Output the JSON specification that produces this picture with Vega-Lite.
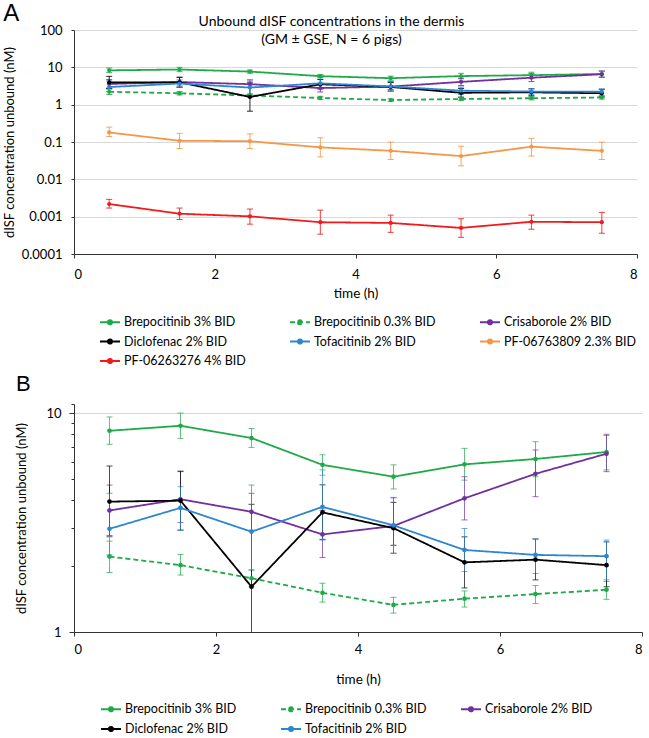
{
 "$schema": "https://vega.github.io/schema/vega-lite/v6.json",
 "padding": {"left": 3, "top": 2, "right": 0, "bottom": 0},
 "background": "white",
 "config": {
  "font": "Lato",
  "view": {"stroke": null},
  "axis": {"domainColor": "#333333", "tickColor": "#333333", "labelColor": "#000000", "titleColor": "#000000", "labelFontSize": 13, "titleFontSize": 13, "titleFontWeight": "normal", "gridColor": "#d9d9d9", "labelFont": "Lato", "titleFont": "Lato"},
  "title": {"font": "Lato", "color": "#000000"}
 },
 "title": {"text": "A", "anchor": "start", "frame": "bounds", "font": "Liberation Sans", "fontSize": 24, "fontWeight": "normal", "offset": -11},
 "datasets": {
  "d": [
   {"series": "Brepocitinib 3% BID", "time": 0.5, "value": 8.3, "lo": 7.2, "hi": 9.6},
   {"series": "Brepocitinib 3% BID", "time": 1.5, "value": 8.75, "lo": 7.66, "hi": 10.0},
   {"series": "Brepocitinib 3% BID", "time": 2.5, "value": 7.69, "lo": 6.97, "hi": 8.5},
   {"series": "Brepocitinib 3% BID", "time": 3.5, "value": 5.8, "lo": 5.2, "hi": 6.45},
   {"series": "Brepocitinib 3% BID", "time": 4.5, "value": 5.12, "lo": 4.5, "hi": 5.8},
   {"series": "Brepocitinib 3% BID", "time": 5.5, "value": 5.83, "lo": 4.94, "hi": 6.9},
   {"series": "Brepocitinib 3% BID", "time": 6.5, "value": 6.17, "lo": 5.12, "hi": 7.4},
   {"series": "Brepocitinib 3% BID", "time": 7.5, "value": 6.64, "lo": 5.5, "hi": 7.9},
   {"series": "Brepocitinib 0.3% BID", "time": 0.5, "value": 2.21, "lo": 1.87, "hi": 2.6},
   {"series": "Brepocitinib 0.3% BID", "time": 1.5, "value": 2.02, "lo": 1.82, "hi": 2.26},
   {"series": "Brepocitinib 0.3% BID", "time": 2.5, "value": 1.76, "lo": 1.61, "hi": 1.92},
   {"series": "Brepocitinib 0.3% BID", "time": 3.5, "value": 1.51, "lo": 1.37, "hi": 1.67},
   {"series": "Brepocitinib 0.3% BID", "time": 4.5, "value": 1.33, "lo": 1.22, "hi": 1.44},
   {"series": "Brepocitinib 0.3% BID", "time": 5.5, "value": 1.42, "lo": 1.3, "hi": 1.54},
   {"series": "Brepocitinib 0.3% BID", "time": 6.5, "value": 1.49, "lo": 1.35, "hi": 1.63},
   {"series": "Brepocitinib 0.3% BID", "time": 7.5, "value": 1.56, "lo": 1.41, "hi": 1.7},
   {"series": "Crisaborole 2% BID", "time": 0.5, "value": 3.59, "lo": 2.72, "hi": 4.69},
   {"series": "Crisaborole 2% BID", "time": 1.5, "value": 4.04, "lo": 3.16, "hi": 5.4},
   {"series": "Crisaborole 2% BID", "time": 2.5, "value": 3.54, "lo": 2.92, "hi": 4.3},
   {"series": "Crisaborole 2% BID", "time": 3.5, "value": 2.79, "lo": 2.19, "hi": 3.6},
   {"series": "Crisaborole 2% BID", "time": 4.5, "value": 3.05, "lo": 2.29, "hi": 4.1},
   {"series": "Crisaborole 2% BID", "time": 5.5, "value": 4.08, "lo": 3.25, "hi": 5.12},
   {"series": "Crisaborole 2% BID", "time": 6.5, "value": 5.28, "lo": 4.15, "hi": 6.78},
   {"series": "Crisaborole 2% BID", "time": 7.5, "value": 6.52, "lo": 5.4, "hi": 8.0},
   {"series": "Diclofenac 2% BID", "time": 0.5, "value": 3.94, "lo": 2.75, "hi": 5.73},
   {"series": "Diclofenac 2% BID", "time": 1.5, "value": 3.98, "lo": 2.92, "hi": 5.43},
   {"series": "Diclofenac 2% BID", "time": 2.5, "value": 1.61, "lo": 0.67, "hi": 3.83},
   {"series": "Diclofenac 2% BID", "time": 3.5, "value": 3.52, "lo": 2.65, "hi": 4.7},
   {"series": "Diclofenac 2% BID", "time": 4.5, "value": 2.98, "lo": 2.49, "hi": 3.91},
   {"series": "Diclofenac 2% BID", "time": 5.5, "value": 2.08, "lo": 1.59, "hi": 2.72},
   {"series": "Diclofenac 2% BID", "time": 6.5, "value": 2.14, "lo": 1.73, "hi": 2.66},
   {"series": "Diclofenac 2% BID", "time": 7.5, "value": 2.02, "lo": 1.61, "hi": 2.58},
   {"series": "Tofacitinib 2% BID", "time": 0.5, "value": 2.96, "lo": 2.25, "hi": 4.3},
   {"series": "Tofacitinib 2% BID", "time": 1.5, "value": 3.69, "lo": 2.92, "hi": 4.61},
   {"series": "Tofacitinib 2% BID", "time": 2.5, "value": 2.87, "lo": 1.92, "hi": 4.69},
   {"series": "Tofacitinib 2% BID", "time": 3.5, "value": 3.73, "lo": 2.63, "hi": 5.5},
   {"series": "Tofacitinib 2% BID", "time": 4.5, "value": 3.07, "lo": 2.29, "hi": 4.12},
   {"series": "Tofacitinib 2% BID", "time": 5.5, "value": 2.37, "lo": 1.89, "hi": 2.97},
   {"series": "Tofacitinib 2% BID", "time": 6.5, "value": 2.25, "lo": 1.85, "hi": 2.66},
   {"series": "Tofacitinib 2% BID", "time": 7.5, "value": 2.22, "lo": 1.73, "hi": 2.63},
   {"series": "PF-06763809 2.3% BID", "time": 0.5, "value": 0.18, "lo": 0.14, "hi": 0.25},
   {"series": "PF-06763809 2.3% BID", "time": 1.5, "value": 0.108, "lo": 0.067, "hi": 0.17},
   {"series": "PF-06763809 2.3% BID", "time": 2.5, "value": 0.105, "lo": 0.067, "hi": 0.165},
   {"series": "PF-06763809 2.3% BID", "time": 3.5, "value": 0.072, "lo": 0.04, "hi": 0.13},
   {"series": "PF-06763809 2.3% BID", "time": 4.5, "value": 0.058, "lo": 0.034, "hi": 0.099},
   {"series": "PF-06763809 2.3% BID", "time": 5.5, "value": 0.042, "lo": 0.023, "hi": 0.077},
   {"series": "PF-06763809 2.3% BID", "time": 6.5, "value": 0.075, "lo": 0.042, "hi": 0.125},
   {"series": "PF-06763809 2.3% BID", "time": 7.5, "value": 0.058, "lo": 0.034, "hi": 0.099},
   {"series": "PF-06263276 4% BID", "time": 0.5, "value": 0.00218, "lo": 0.0017, "hi": 0.0029},
   {"series": "PF-06263276 4% BID", "time": 1.5, "value": 0.0012, "lo": 0.00084, "hi": 0.0017},
   {"series": "PF-06263276 4% BID", "time": 2.5, "value": 0.00102, "lo": 0.00063, "hi": 0.0016},
   {"series": "PF-06263276 4% BID", "time": 3.5, "value": 0.00071, "lo": 0.00034, "hi": 0.0015},
   {"series": "PF-06263276 4% BID", "time": 4.5, "value": 0.00068, "lo": 0.00038, "hi": 0.0011},
   {"series": "PF-06263276 4% BID", "time": 5.5, "value": 0.0005, "lo": 0.00028, "hi": 0.00088},
   {"series": "PF-06263276 4% BID", "time": 6.5, "value": 0.00073, "lo": 0.00046, "hi": 0.0011},
   {"series": "PF-06263276 4% BID", "time": 7.5, "value": 0.00071, "lo": 0.00036, "hi": 0.0013}
  ]
 },
 "spacing": 4,
 "resolve": {"scale": {"color": "independent", "strokeDash": "independent", "x": "independent", "y": "independent"}},
 "vconcat": [
  {
   "name": "pa",
   "width": 563,
   "height": 224,
   "title": {"text": ["Unbound dISF concentrations in the dermis", "(GM ± GSE, N = 6 pigs)"], "anchor": "middle", "frame": "group", "fontSize": 14, "fontWeight": "normal", "offset": -23, "dx": -24, "lineHeight": 18},
   "data": {"name": "d"},
   "encoding": {
    "x": {"field": "time", "type": "quantitative", "scale": {"domain": [0, 8], "nice": false},
      "axis": {"values": [0, 2, 4, 6, 8], "grid": false, "title": "time (h)", "titleFontSize": 13.5, "tickSize": 4, "labelPadding": 10, "titlePadding": 5}}
   },
   "layer": [
    {
     "mark": {"type": "errorbar", "ticks": true, "size": 6, "thickness": 1, "opacity": 0.85},
     "encoding": {
      "y": {"field": "lo", "type": "quantitative", "scale": {"type": "log", "domain": [0.0001, 100]},
        "axis": {"values": [0.0001, 0.001, 0.01, 0.1, 1, 10, 100], "format": "~g", "title": "dISF concentration unbound (nM)", "tickSize": 3, "labelPadding": 9, "titlePadding": 5}},
      "y2": {"field": "hi"},
      "color": {"field": "series", "type": "nominal",
        "scale": {"domain": ["Brepocitinib 3% BID", "Brepocitinib 0.3% BID", "Crisaborole 2% BID", "Diclofenac 2% BID", "Tofacitinib 2% BID", "PF-06763809 2.3% BID", "PF-06263276 4% BID"],
                  "range": ["#1FAA48", "#1FAA48", "#7030A0", "#000000", "#2E86D1", "#F79646", "#F21A1A"]},
        "legend": {"orient": "none", "legendX": 25, "legendY": 281, "direction": "horizontal", "columns": 3, "title": null,
          "symbolType": "M-1,0H1M-0.22,0A0.22,0.22 0 1,0 0.22,0A0.22,0.22 0 1,0 -0.22,0", "symbolSize": 400, "symbolStrokeWidth": 1.8,
          "labelFontSize": 12.5, "labelFont": "Lato", "labelColor": "#000000", "labelOffset": 3, "labelLimit": 300, "rowPadding": 1.5, "columnPadding": 30, "gridAlign": "all",
          "encode": {"symbols": {"update": {"fill": {"scale": "pa_color", "field": "value"}, "stroke": {"scale": "pa_color", "field": "value"}, "strokeDash": {"scale": "pa_strokeDash", "field": "value"}}}}}}
     }
    },
    {
     "mark": {"type": "line", "strokeWidth": 1.8, "point": {"filled": true, "size": 18}},
     "encoding": {
      "y": {"field": "value", "type": "quantitative", "title": "dISF concentration unbound (nM)"},
      "color": {"field": "series", "type": "nominal",
        "legend": {"orient": "none", "legendX": 25, "legendY": 281, "direction": "horizontal", "columns": 3, "title": null,
          "symbolType": "M-1,0H1M-0.22,0A0.22,0.22 0 1,0 0.22,0A0.22,0.22 0 1,0 -0.22,0", "symbolSize": 400, "symbolStrokeWidth": 1.8,
          "labelFontSize": 12.5, "labelFont": "Lato", "labelColor": "#000000", "labelOffset": 3, "labelLimit": 300, "rowPadding": 1.5, "columnPadding": 30, "gridAlign": "all",
          "encode": {"symbols": {"update": {"fill": {"scale": "pa_color", "field": "value"}, "stroke": {"scale": "pa_color", "field": "value"}, "strokeDash": {"scale": "pa_strokeDash", "field": "value"}}}}}},
      "strokeDash": {"field": "series", "type": "nominal", "legend": null,
        "scale": {"domain": ["Brepocitinib 3% BID", "Brepocitinib 0.3% BID", "Crisaborole 2% BID", "Diclofenac 2% BID", "Tofacitinib 2% BID", "PF-06763809 2.3% BID", "PF-06263276 4% BID"],
                  "range": [[1, 0], [5, 3], [1, 0], [1, 0], [1, 0], [1, 0], [1, 0]]}}
     }
    }
   ]
  },
  {
   "name": "pb",
   "width": 568,
   "height": 228,
   "title": {"text": "B", "anchor": "start", "frame": "bounds", "font": "Liberation Sans", "fontSize": 22, "fontWeight": "normal", "offset": 8},
   "data": {"name": "d"},
   "transform": [{"filter": "indexof(datum.series, 'PF-') < 0"}],
   "encoding": {
    "x": {"field": "time", "type": "quantitative", "scale": {"domain": [0, 8], "nice": false},
      "axis": {"values": [0, 2, 4, 6, 8], "grid": false, "title": "time (h)", "titleFontSize": 13.5, "tickSize": 4, "labelPadding": 7, "titlePadding": 16}}
   },
   "layer": [
    {
     "mark": {"type": "errorbar", "ticks": true, "size": 6, "thickness": 1, "opacity": 0.7, "clip": true},
     "encoding": {
      "y": {"field": "lo", "type": "quantitative", "scale": {"type": "log", "domain": [1, 11], "nice": false},
        "axis": {"values": [1, 2, 3, 4, 5, 6, 7, 8, 9, 10, 11], "format": "d", "labelExpr": "datum.value == 1 || datum.value == 10 ? datum.label : ''",
          "grid": true, "gridOpacity": {"condition": {"test": "datum.value == 10", "value": 1}, "value": 0},
          "tickSize": {"condition": {"test": "datum.value == 1 || datum.value == 10", "value": 5}, "value": 3},
          "title": "dISF concentration unbound (nM)", "labelPadding": 8, "titlePadding": 17}},
      "y2": {"field": "hi"},
      "color": {"field": "series", "type": "nominal",
        "scale": {"domain": ["Brepocitinib 3% BID", "Brepocitinib 0.3% BID", "Crisaborole 2% BID", "Diclofenac 2% BID", "Tofacitinib 2% BID"],
                  "range": ["#1FAA48", "#1FAA48", "#7030A0", "#000000", "#2E86D1"]},
        "legend": {"orient": "none", "legendX": 26, "legendY": 294, "direction": "horizontal", "columns": 3, "title": null,
          "symbolType": "M-1,0H1M-0.22,0A0.22,0.22 0 1,0 0.22,0A0.22,0.22 0 1,0 -0.22,0", "symbolSize": 400, "symbolStrokeWidth": 1.8,
          "labelFontSize": 12.5, "labelFont": "Lato", "labelColor": "#000000", "labelOffset": 3, "labelLimit": 300, "rowPadding": 2, "columnPadding": 30, "gridAlign": "all",
          "encode": {"symbols": {"update": {"fill": {"scale": "pb_color", "field": "value"}, "stroke": {"scale": "pb_color", "field": "value"}, "strokeDash": {"scale": "pb_strokeDash", "field": "value"}}}}}}
     }
    },
    {
     "mark": {"type": "line", "strokeWidth": 1.8, "point": {"filled": true, "size": 22}, "clip": true},
     "encoding": {
      "y": {"field": "value", "type": "quantitative", "title": "dISF concentration unbound (nM)"},
      "color": {"field": "series", "type": "nominal",
        "legend": {"orient": "none", "legendX": 26, "legendY": 294, "direction": "horizontal", "columns": 3, "title": null,
          "symbolType": "M-1,0H1M-0.22,0A0.22,0.22 0 1,0 0.22,0A0.22,0.22 0 1,0 -0.22,0", "symbolSize": 400, "symbolStrokeWidth": 1.8,
          "labelFontSize": 12.5, "labelFont": "Lato", "labelColor": "#000000", "labelOffset": 3, "labelLimit": 300, "rowPadding": 2, "columnPadding": 30, "gridAlign": "all",
          "encode": {"symbols": {"update": {"fill": {"scale": "pb_color", "field": "value"}, "stroke": {"scale": "pb_color", "field": "value"}, "strokeDash": {"scale": "pb_strokeDash", "field": "value"}}}}}},
      "strokeDash": {"field": "series", "type": "nominal", "legend": null,
        "scale": {"domain": ["Brepocitinib 3% BID", "Brepocitinib 0.3% BID", "Crisaborole 2% BID", "Diclofenac 2% BID", "Tofacitinib 2% BID"],
                  "range": [[1, 0], [5, 3], [1, 0], [1, 0], [1, 0]]}}
     }
    }
   ]
  }
 ]
}
